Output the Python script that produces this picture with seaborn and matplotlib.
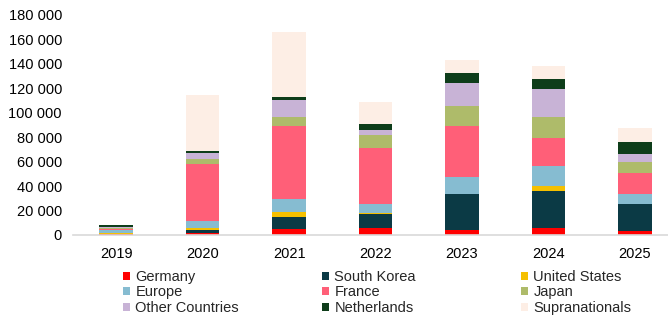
import numpy as np
import matplotlib
matplotlib.use("Agg")
import matplotlib.pyplot as plt
from matplotlib.patches import Patch
from matplotlib.ticker import FuncFormatter
import seaborn as sns

years = ["2019", "2020", "2021", "2022", "2023", "2024", "2025"]

germany = [800, 2000, 4700, 5500, 4100, 6000, 3500]
south_korea = [400, 2500, 10300, 11500, 29200, 30300, 21800]
united_states = [200, 1500, 3900, 800, 300, 3800, 0]
europe = [2400, 5700, 10700, 7900, 13600, 16400, 8200]
france = [1400, 46400, 59700, 45300, 42300, 23200, 16900]
japan = [800, 4400, 7500, 10900, 15800, 17200, 9500]
other_countries = [900, 4900, 13800, 4100, 19100, 22400, 6500]
netherlands = [1000, 1300, 2700, 4600, 8200, 8700, 9500]
supranationals = [300, 46000, 53200, 18000, 10900, 10600, 11500]

series_names = ["Germany", "South Korea", "United States", "Europe", "France",
                "Japan", "Other Countries", "Netherlands", "Supranationals"]
series_values = [germany, south_korea, united_states, europe, france,
                 japan, other_countries, netherlands, supranationals]
series_colors = ["#FF0000", "#0B3A45", "#F5C000", "#86BCD1", "#FF5F78",
                 "#AEBB6A", "#C8B3D6", "#0E3D1A", "#FDEEE5"]

sns.set_theme(style="white")
plt.rcParams["font.family"] = ["Liberation Sans", "DejaVu Sans"]

fig = plt.figure(figsize=(6.68, 3.22), dpi=100)
ax = fig.add_axes([73 / 668, 87 / 322, 595 / 668, 220 / 322])

# stacked bars: draw cumulative totals from the top layer down
cumulative = np.cumsum(np.array(series_values, dtype=float), axis=0)
for i in range(len(series_names) - 1, -1, -1):
    sns.barplot(x=years, y=cumulative[i], color=series_colors[i],
                saturation=1, width=0.39, ax=ax, linewidth=0)

ax.set_xlim(-0.5, 6.5 - 10 / 86.4)
ax.set_ylim(0, 180000)
ax.set_yticks(np.arange(0, 180001, 20000))
ax.yaxis.set_major_formatter(FuncFormatter(lambda v, p: f"{int(v):,}".replace(",", " ")))
ax.set_xlabel("")
ax.set_ylabel("")
ax.tick_params(axis="both", length=0, labelsize=10.5, colors="#000000")
ax.tick_params(axis="y", pad=8)
ax.tick_params(axis="x", pad=9)
for s in ["top", "right", "left"]:
    ax.spines[s].set_visible(False)
ax.spines["bottom"].set_color("#D9D9D9")
ax.spines["bottom"].set_linewidth(1.2)
ax.grid(False)

# legend in three columns, filled row by row
col_x = [123, 322, 521]
for c in range(3):
    idx = [c, c + 3, c + 6]
    handles = [Patch(facecolor=series_colors[k], edgecolor="none") for k in idx]
    labels = [series_names[k] for k in idx]
    fig.legend(handles, labels, loc="upper left",
               bbox_to_anchor=(col_x[c] / 668, 1 - 270 / 322),
               frameon=False, fontsize=10.5, handlelength=0.5, handleheight=0.5,
               handletextpad=0.35, labelspacing=0.1, borderpad=0, borderaxespad=0)

fig.savefig("out.png", dpi=100)
